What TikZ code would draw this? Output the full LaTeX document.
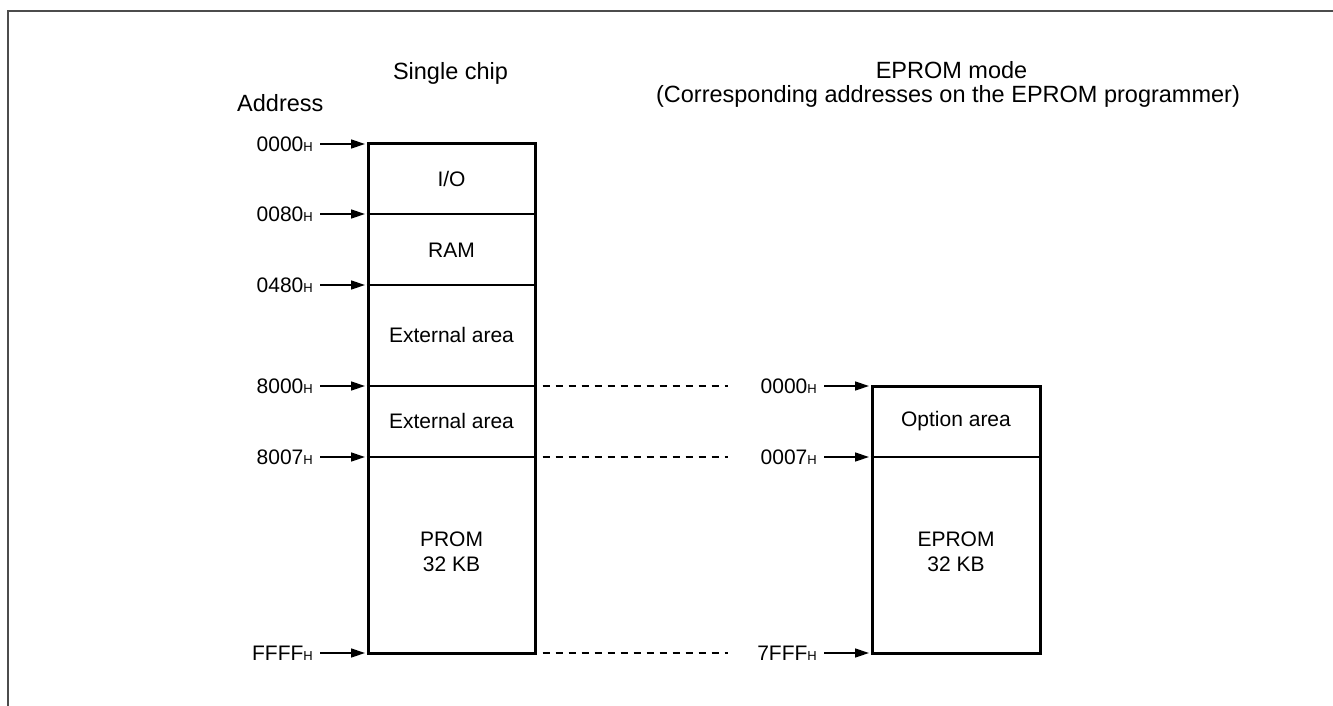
\documentclass[tikz,border=0pt]{standalone}
\usepackage{fontspec}
\setmainfont{Liberation Sans}
\usetikzlibrary{arrows.meta}
\newcommand\hx[1]{#1{\fontsize{13}{13}\selectfont H}}
\begin{document}
\begin{tikzpicture}[x=1pt,y=-1pt,
  title/.style={font=\fontsize{23.5}{27}\selectfont, inner sep=0pt},
  lbl/.style={font=\fontsize{21}{25}\selectfont, inner sep=0pt, align=center},
  addr/.style={font=\fontsize{21}{25}\selectfont, inner sep=0pt, anchor=east},
  membox/.style={draw, line width=3pt, inner sep=0pt},
  divider/.style={line width=1.4pt},
  arr/.style={line width=1.4pt, -{Triangle[length=14pt,width=9pt]}, shorten >=1.5pt},
  link/.style={line width=1.2pt, dash pattern=on 7pt off 6pt},
  frame/.style={line width=2pt, draw=black!70}]
\useasboundingbox (0,0) rectangle (1333,706);
% frame
\coordinate (fb) at (8,706);
\coordinate (fc) at (8,11);
\coordinate (fr) at (1333,11);
\draw[frame] (fb) -- (fc) -- (fr);
% titles
\node[title, anchor=base] (t1) at (450.5,80) {Single chip};
\node[title, anchor=base west] (taddr) at (237,112) {Address};
\node[title, anchor=base] (t2) at (951.5,79) {EPROM mode};
\node[title, anchor=base] (t3) at (948,103) {(Corresponding addresses on the EPROM programmer)};
% boxes
\node[membox, minimum width=167pt, minimum height=509pt] (chip) at (451.5,398.5) {};
\node[membox, minimum width=168pt, minimum height=267pt] (eprom) at (956,519.5) {};
% dividers
\draw[divider] (chip.west |- 0,214) -- (chip.east |- 0,214);
\draw[divider] (chip.west |- 0,285) -- (chip.east |- 0,285);
\draw[divider] (chip.west |- 0,386) -- (chip.east |- 0,386);
\draw[divider] (chip.west |- 0,457) -- (chip.east |- 0,457);
\draw[divider] (eprom.west |- 0,457) -- (eprom.east |- 0,457);
% box labels
\node[lbl] (io) at (451.5,179) {I/O};
\node[lbl] (ram) at (451.5,250) {RAM};
\node[lbl] (ext1) at (451.5,335) {External area};
\node[lbl] (ext2) at (451.5,421) {External area};
\node[lbl] (prom) at (451.5,552) {PROM\\32 KB};
\node[lbl] (opt) at (956,421) {Option area};
\node[lbl] (ep) at (956,552) {EPROM\\32 KB};
% left addresses
\node[addr] (a0) at (313,144) {\hx{0000}};
\node[addr] (a1) at (313,214) {\hx{0080}};
\node[addr] (a2) at (313,285) {\hx{0480}};
\node[addr] (a3) at (313,386) {\hx{8000}};
\node[addr] (a4) at (313,457) {\hx{8007}};
\node[addr] (a5) at (313,653) {\hx{FFFF}};
\foreach \n in {a0,a1,a2,a3,a4,a5}
  \draw[arr] ([xshift=7pt]\n.east) -- (\n -| chip.west);
% right addresses
\node[addr] (b0) at (817,386) {\hx{0000}};
\node[addr] (b1) at (817,457) {\hx{0007}};
\node[addr] (b2) at (817,653) {\hx{7FFF}};
\foreach \n in {b0,b1,b2}
  \draw[arr] ([xshift=7pt]\n.east) -- (\n -| eprom.west);
% dashed correspondence lines
\coordinate (e0) at (728,386);
\coordinate (e1) at (728,457);
\coordinate (e2) at (728,653);
\draw[link] ([xshift=6pt]a3 -| chip.east) -- (e0);
\draw[link] ([xshift=6pt]a4 -| chip.east) -- (e1);
\draw[link] ([xshift=6pt]a5 -| chip.east) -- (e2);
\end{tikzpicture}
\end{document}
